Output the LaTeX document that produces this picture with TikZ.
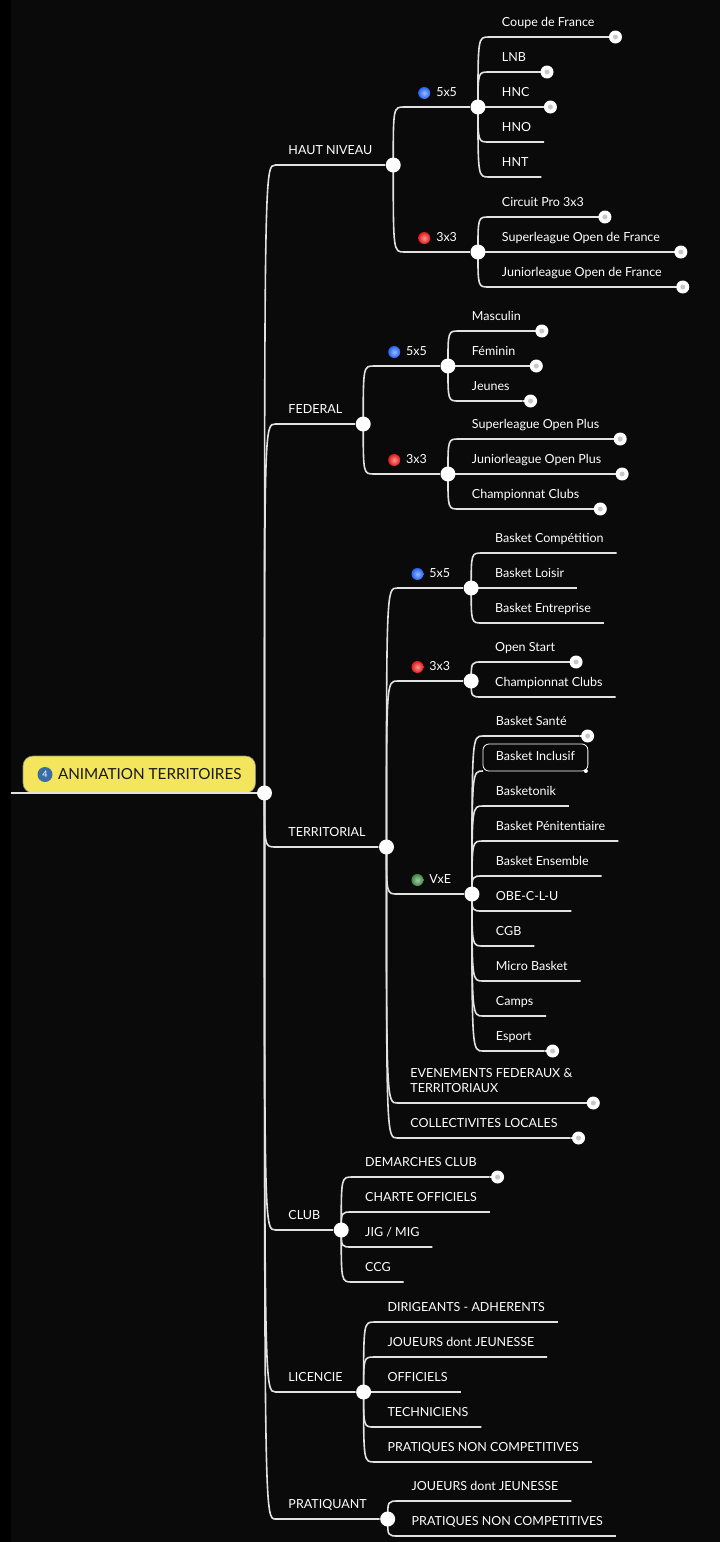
\documentclass[tikz,border=0pt]{standalone}
\usepackage{fontspec}
\setmainfont{Lato}
\usetikzlibrary{calc}
\usetikzlibrary{shapes}
\definecolor{ink}{RGB}{10,10,10}
\definecolor{wire}{RGB}{226,226,226}
\definecolor{sun}{RGB}{243,229,92}
\definecolor{badgeblue}{RGB}{58,108,166}
\definecolor{blu}{RGB}{35,100,245}
\definecolor{rd}{RGB}{228,25,25}
\definecolor{grn}{RGB}{62,135,70}
\tikzset{
  topic/.style={anchor=south west, inner xsep=13, inner ysep=7.5, outer sep=0,
    text height=9, text depth=3, text=white, font=\fontsize{12.5}{15}\selectfont},
  rootbox/.style={anchor=south west, fill=sun, draw=black!45, line width=0.6,
    rounded corners=10, inner xsep=14, minimum height=37, outer sep=0,
    text=black!90, font=\fontsize{15.25}{18}\selectfont},
  badge/.style={circle, fill=badgeblue, text=white, minimum size=15, inner sep=0,
    font=\fontsize{9}{9}\selectfont},
  branch/.style={draw=wire, line width=1.6},
  knob/.style={circle, fill=white, minimum size=15, inner sep=0},
  fold/.style={circle, fill=white, minimum size=13, inner sep=0,
    path picture={\fill[black!22] (path picture bounding box.center) circle (2.5pt);}},
  gem/.style={circle, minimum size=12, inner sep=0, inner color=#1!45!white, outer color=#1},
}
\begin{document}
\begin{tikzpicture}[x=1pt, y=-1pt]
  \fill[ink, use as bounding box] (0,0) rectangle (720,1542);
  \fill[black] (0,0) rectangle (11,1542);

  % root
  \node[rootbox] (root) at (23,793) {\hspace{21pt}ANIMATION TERRITOIRES};
  \node[badge] (root-n) at ([xshift=22]root.west) {4};
  \coordinate (root-w) at (11,793);
  \coordinate (root-e) at ([xshift=9]root.south east);

  % main branches
  \node[topic, xshift=11] (hn) at (root-e |- 0,165) {HAUT NIVEAU};
  \node[topic, xshift=11] (fed) at (root-e |- 0,424) {FEDERAL};
  \node[topic, xshift=11] (terr) at (root-e |- 0,847) {TERRITORIAL};
  \node[topic, xshift=11] (club) at (root-e |- 0,1230) {CLUB};
  \node[topic, xshift=11] (lic) at (root-e |- 0,1392) {LICENCIE};
  \node[topic, xshift=11] (prat) at (root-e |- 0,1519) {PRATIQUANT};
  \coordinate (hn-e) at ([xshift=8]hn.south east);
  \coordinate (fed-e) at ([xshift=8]fed.south east);
  \coordinate (terr-e) at ([xshift=8]terr.south east);
  \coordinate (club-e) at ([xshift=8]club.south east);
  \coordinate (lic-e) at ([xshift=8]lic.south east);
  \coordinate (prat-e) at ([xshift=8]prat.south east);

  % HAUT NIVEAU
  \node[topic, xshift=11] (hn55) at (hn-e |- 0,107) {\hspace{19pt}5x5};
  \node[topic, xshift=11] (hn33) at (hn-e |- 0,252) {\hspace{19pt}3x3};
  \coordinate (hn55-e) at ([xshift=8]hn55.south east);
  \coordinate (hn33-e) at ([xshift=8]hn33.south east);
  \node[topic, xshift=11] (cdf) at (hn55-e |- 0,37) {Coupe de France};
  \node[topic, xshift=11] (lnb) at (hn55-e |- 0,72) {LNB};
  \node[topic, xshift=11] (hnc) at (hn55-e |- 0,107) {HNC};
  \node[topic, xshift=11] (hno) at (hn55-e |- 0,142) {HNO};
  \node[topic, xshift=11] (hnt) at (hn55-e |- 0,177) {HNT};
  \node[topic, xshift=11] (cp33) at (hn33-e |- 0,217) {Circuit Pro 3x3};
  \node[topic, xshift=11] (sof) at (hn33-e |- 0,252) {Superleague Open de France};
  \node[topic, xshift=11] (jof) at (hn33-e |- 0,287) {Juniorleague Open de France};

  % FEDERAL
  \node[topic, xshift=11] (fed55) at (fed-e |- 0,366) {\hspace{19pt}5x5};
  \node[topic, xshift=11] (fed33) at (fed-e |- 0,474) {\hspace{19pt}3x3};
  \coordinate (fed55-e) at ([xshift=8]fed55.south east);
  \coordinate (fed33-e) at ([xshift=8]fed33.south east);
  \node[topic, xshift=11] (masc) at (fed55-e |- 0,331) {Masculin};
  \node[topic, xshift=11] (fem) at (fed55-e |- 0,366) {Féminin};
  \node[topic, xshift=11] (jeu) at (fed55-e |- 0,401) {Jeunes};
  \node[topic, xshift=11] (sop) at (fed33-e |- 0,439) {Superleague Open Plus};
  \node[topic, xshift=11] (jop) at (fed33-e |- 0,474) {Juniorleague Open Plus};
  \node[topic, xshift=11] (fcc) at (fed33-e |- 0,509) {Championnat Clubs};

  % TERRITORIAL
  \node[topic, xshift=11] (ter55) at (terr-e |- 0,588) {\hspace{19pt}5x5};
  \node[topic, xshift=11] (ter33) at (terr-e |- 0,681) {\hspace{19pt}3x3};
  \node[topic, xshift=11] (vxe) at (terr-e |- 0,894) {\hspace{19pt}VxE};
  \node[topic, xshift=11, align=left, text height=24] (evt) at (terr-e |- 0,1103)
    {EVENEMENTS FEDERAUX \&\\TERRITORIAUX};
  \node[topic, xshift=11] (coll) at (terr-e |- 0,1138) {COLLECTIVITES LOCALES};
  \coordinate (ter55-e) at ([xshift=8]ter55.south east);
  \coordinate (ter33-e) at ([xshift=8]ter33.south east);
  \coordinate (vxe-e) at ([xshift=8]vxe.south east);
  \node[topic, xshift=11] (bcomp) at (ter55-e |- 0,553) {Basket Compétition};
  \node[topic, xshift=11] (bloi) at (ter55-e |- 0,588) {Basket Loisir};
  \node[topic, xshift=11] (bent) at (ter55-e |- 0,623) {Basket Entreprise};
  \node[topic, xshift=11] (ostart) at (ter33-e |- 0,662) {Open Start};
  \node[topic, xshift=11] (tcc) at (ter33-e |- 0,697) {Championnat Clubs};
  \node[topic, xshift=11] (bsan) at (vxe-e |- 0,736) {Basket Santé};
  \node[topic, xshift=11, draw=white, line width=0.8, rounded corners=6]
    (binc) at (vxe-e |- 0,771) {Basket Inclusif};
  \node[topic, xshift=11] (btonik) at (vxe-e |- 0,806) {Basketonik};
  \node[topic, xshift=11] (bpen) at (vxe-e |- 0,841) {Basket Pénitentiaire};
  \node[topic, xshift=11] (bens) at (vxe-e |- 0,876) {Basket Ensemble};
  \node[topic, xshift=11] (obe) at (vxe-e |- 0,911) {OBE-C-L-U};
  \node[topic, xshift=11] (cgb) at (vxe-e |- 0,946) {CGB};
  \node[topic, xshift=11] (micro) at (vxe-e |- 0,981) {Micro Basket};
  \node[topic, xshift=11] (camps) at (vxe-e |- 0,1016) {Camps};
  \node[topic, xshift=11] (esport) at (vxe-e |- 0,1051) {Esport};
  \node[circle, fill=white, minimum size=4, inner sep=0] (binc-d)
    at ([xshift=-2]binc.south east) {};

  % CLUB
  \node[topic, xshift=11] (dem) at (club-e |- 0,1177) {DEMARCHES CLUB};
  \node[topic, xshift=11] (charte) at (club-e |- 0,1212) {CHARTE OFFICIELS};
  \node[topic, xshift=11] (jig) at (club-e |- 0,1247) {JIG / MIG};
  \node[topic, xshift=11] (ccg) at (club-e |- 0,1282) {CCG};

  % LICENCIE
  \node[topic, xshift=11] (dir) at (lic-e |- 0,1322) {DIRIGEANTS - ADHERENTS};
  \node[topic, xshift=11] (ljou) at (lic-e |- 0,1357) {JOUEURS dont JEUNESSE};
  \node[topic, xshift=11] (off) at (lic-e |- 0,1392) {OFFICIELS};
  \node[topic, xshift=11] (tech) at (lic-e |- 0,1427) {TECHNICIENS};
  \node[topic, xshift=11] (lprat) at (lic-e |- 0,1462) {PRATIQUES NON COMPETITIVES};

  % PRATIQUANT
  \node[topic, xshift=11] (pjou) at (prat-e |- 0,1501) {JOUEURS dont JEUNESSE};
  \node[topic, xshift=11] (pprat) at (prat-e |- 0,1536) {PRATIQUES NON COMPETITIVES};

  % connectors
  \draw[branch] (root-w) -- (root-e);
  \foreach \p/\n in {root/hn, root/fed, root/terr, root/club, root/lic, root/prat,
      hn/hn55, hn/hn33, hn55/cdf, hn55/lnb, hn55/hnc, hn55/hno, hn55/hnt,
      hn33/cp33, hn33/sof, hn33/jof,
      fed/fed55, fed/fed33, fed55/masc, fed55/fem, fed55/jeu,
      fed33/sop, fed33/jop, fed33/fcc,
      terr/ter55, terr/ter33, terr/vxe, terr/evt, terr/coll,
      ter55/bcomp, ter55/bloi, ter55/bent, ter33/ostart, ter33/tcc,
      vxe/bsan, vxe/btonik, vxe/bpen, vxe/bens, vxe/obe, vxe/cgb,
      vxe/micro, vxe/camps, vxe/esport,
      club/dem, club/charte, club/jig, club/ccg,
      lic/dir, lic/ljou, lic/off, lic/tech, lic/lprat,
      prat/pjou, prat/pprat}
    \draw[branch] (\p-e) .. controls (\p-e |- \n.south west) .. (\n.south west)
      -- (\n.south east);
  \draw[branch] (vxe-e) .. controls (vxe-e |- binc.south west) .. (binc.south west);

  % folded topics
  \foreach \n in {cdf, lnb, hnc, cp33, sof, jof, masc, fem, jeu, sop, jop, fcc,
      ostart, bsan, esport, evt, coll, dem}
    \draw[branch] (\n.south east) -- ([xshift=8]\n.south east) node[fold] (\n-f) {};

  % junctions and bullets
  \foreach \n in {root, hn, hn55, hn33, fed, fed55, fed33, terr, ter55, ter33,
      vxe, club, lic, prat}
    \node[knob] (\n-k) at (\n-e) {};
  \foreach \n/\c in {hn55/blu, hn33/rd, fed55/blu, fed33/rd, ter55/blu,
      ter33/rd, vxe/grn}
    \node[gem=\c] (\n-g) at ([xshift=20, yshift=14]\n.south west) {};
\end{tikzpicture}
\end{document}
